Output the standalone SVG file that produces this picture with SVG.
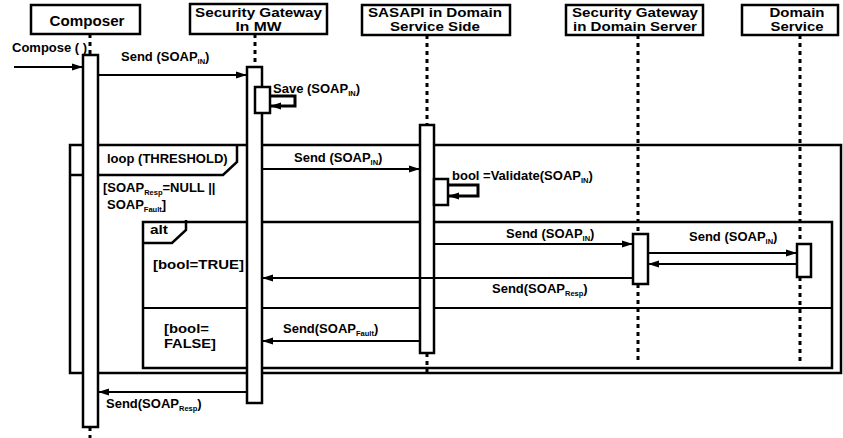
<svg xmlns="http://www.w3.org/2000/svg" width="843" height="438" viewBox="0 0 843 438">
<style>
.box{fill:#fff;stroke:#000;stroke-width:2.5}
.hdr{font-family:"Liberation Sans",Arial,sans-serif;font-weight:bold;font-size:13px;text-anchor:middle;fill:#000}
.life{stroke:#000;stroke-width:3;stroke-dasharray:4 4;fill:none}
.act{fill:#fff;stroke:#000;stroke-width:2.5}
.msg{stroke:#000;stroke-width:2;fill:none;marker-end:url(#ah)}
.self{stroke:#000;stroke-width:3;fill:none;marker-end:url(#ah)}
.lbl{font-family:"Liberation Sans",Arial,sans-serif;font-weight:bold;font-size:13px;fill:#000}
.grd{font-family:"Liberation Sans",Arial,sans-serif;font-weight:bold;font-size:13px;fill:#000}
.sub{font-size:7.5px}
.frame{fill:none;stroke:#000;stroke-width:2.5}
.fline{fill:none;stroke:#000;stroke-width:2}
</style>
<defs>
<marker id="ah" markerUnits="userSpaceOnUse" markerWidth="11" markerHeight="8" refX="11" refY="4" orient="auto">
<path d="M0,0.5 L11,4 L0,7.5 z" fill="#000"/>
</marker>
</defs>
<rect width="843" height="438" fill="#fff"/>

<g id="frames">
<g id="loop-frame">
<rect class="frame" x="70" y="145" width="771" height="228"/>
<path class="frame" d="M70,175 L223,175 L237,162 L237,145"/>
<text class="lbl" x="107" y="163">loop (THRESHOLD)</text>
<text class="lbl" x="103" y="192">[SOAP<tspan class="sub" dy="3">Resp</tspan><tspan dy="-3">=NULL ||</tspan></text>
<text class="lbl" x="107" y="209">SOAP<tspan class="sub" dy="3">Fault</tspan><tspan dy="-3">]</tspan></text>
</g>
<g id="alt-frame">
<rect class="frame" x="143" y="222" width="689" height="146"/>
<path class="frame" d="M143,243 L172,243 L186,230 L186,220"/>
<line class="fline" x1="143" y1="308" x2="832" y2="308"/>
<text class="grd" x="150" y="234" textLength="18" lengthAdjust="spacingAndGlyphs">alt</text>
<text class="grd" x="153" y="269" textLength="91" lengthAdjust="spacingAndGlyphs">[bool=TRUE]</text>
<text class="grd" x="164" y="333" textLength="45" lengthAdjust="spacingAndGlyphs">[bool=</text>
<text class="grd" x="164" y="348" textLength="52" lengthAdjust="spacingAndGlyphs">FALSE]</text>
</g>
</g>

<g id="composer">
<rect class="box" x="31" y="5" width="109" height="29"/>
<text class="hdr" x="87" y="26" style="font-size:14px" textLength="75" lengthAdjust="spacingAndGlyphs">Composer</text>
<line class="life" x1="90" y1="34" x2="90" y2="55"/>
<line class="life" x1="90" y1="427" x2="90" y2="438"/>
<rect class="act" x="83" y="55" width="15" height="372"/>
</g>

<g id="gateway-mw">
<rect class="box" x="190" y="4" width="137" height="30"/>
<text class="hdr" x="258.5" y="17" textLength="127" lengthAdjust="spacingAndGlyphs">Security Gateway</text>
<text class="hdr" x="258.5" y="31" textLength="46" lengthAdjust="spacingAndGlyphs">In MW</text>
<line class="life" x1="255" y1="34" x2="255" y2="67"/>
<rect class="act" x="247" y="67" width="15" height="336"/>
<rect class="act" x="255" y="87" width="15" height="26"/>
</g>

<g id="sasapi">
<rect class="box" x="362" y="5" width="148" height="30"/>
<text class="hdr" x="435" y="17" textLength="134" lengthAdjust="spacingAndGlyphs">SASAPI in Domain</text>
<text class="hdr" x="435" y="31" textLength="90" lengthAdjust="spacingAndGlyphs">Service Side</text>
<line class="life" x1="427" y1="35" x2="427" y2="125"/>
<line class="life" x1="427" y1="353" x2="427" y2="373"/>
<rect class="act" x="420" y="125" width="14" height="228"/>
<rect class="act" x="434" y="179" width="14" height="26"/>
</g>

<g id="gateway-ds">
<rect class="box" x="566" y="5" width="137" height="30"/>
<text class="hdr" x="635" y="17" textLength="126" lengthAdjust="spacingAndGlyphs">Security Gateway</text>
<text class="hdr" x="635" y="31" textLength="124" lengthAdjust="spacingAndGlyphs">in Domain Server</text>
<line class="life" x1="638" y1="35" x2="638" y2="234"/>
<line class="life" x1="638" y1="284" x2="638" y2="364"/>
<rect class="act" x="633" y="234" width="15" height="50"/>
</g>

<g id="domain-service">
<rect class="box" x="742" y="5" width="96" height="30"/>
<text class="hdr" x="797" y="17" textLength="55" lengthAdjust="spacingAndGlyphs">Domain</text>
<text class="hdr" x="797" y="31" textLength="53" lengthAdjust="spacingAndGlyphs">Service</text>
<line class="life" x1="800" y1="35" x2="800" y2="244"/>
<line class="life" x1="800" y1="277" x2="800" y2="364"/>
<rect class="act" x="797" y="244" width="14" height="33"/>
</g>

<g id="connectors">
<line class="msg" x1="14" y1="67" x2="83" y2="67"/>
<text class="lbl" x="12" y="52">Compose ( )</text>

<line class="msg" x1="98" y1="75" x2="247" y2="75"/>
<text class="lbl" x="121" y="61">Send (SOAP<tspan class="sub" dy="3">IN</tspan><tspan dy="-3">)</tspan></text>

<path class="self" d="M270,96 L295,96 L295,106 L270,106"/>
<text class="lbl" x="273" y="93">Save (SOAP<tspan class="sub" dy="3">IN</tspan><tspan dy="-3">)</tspan></text>

<line class="msg" x1="262" y1="169" x2="420" y2="169"/>
<text class="lbl" x="294" y="162">Send (SOAP<tspan class="sub" dy="3">IN</tspan><tspan dy="-3">)</tspan></text>

<path class="self" d="M448,185 L478,185 L478,196 L448,196"/>
<text class="lbl" x="452" y="180">bool =Validate(SOAP<tspan class="sub" dy="3">IN</tspan><tspan dy="-3">)</tspan></text>

<line class="msg" x1="434" y1="244" x2="633" y2="244"/>
<text class="lbl" x="506" y="238">Send (SOAP<tspan class="sub" dy="3">IN</tspan><tspan dy="-3">)</tspan></text>

<line class="msg" x1="648" y1="253" x2="797" y2="253"/>
<text class="lbl" x="689" y="241">Send (SOAP<tspan class="sub" dy="3">IN</tspan><tspan dy="-3">)</tspan></text>

<line class="msg" x1="797" y1="264" x2="648" y2="264"/>

<line class="msg" x1="633" y1="278" x2="262" y2="278"/>
<text class="lbl" x="492" y="293">Send(SOAP<tspan class="sub" dy="3">Resp</tspan><tspan dy="-3">)</tspan></text>

<line class="msg" x1="420" y1="341" x2="262" y2="341"/>
<text class="lbl" x="283" y="333">Send(SOAP<tspan class="sub" dy="3">Fault</tspan><tspan dy="-3">)</tspan></text>

<line class="msg" x1="247" y1="392" x2="98" y2="392"/>
<text class="lbl" x="106" y="408">Send(SOAP<tspan class="sub" dy="3">Resp</tspan><tspan dy="-3">)</tspan></text>
</g>
</svg>
